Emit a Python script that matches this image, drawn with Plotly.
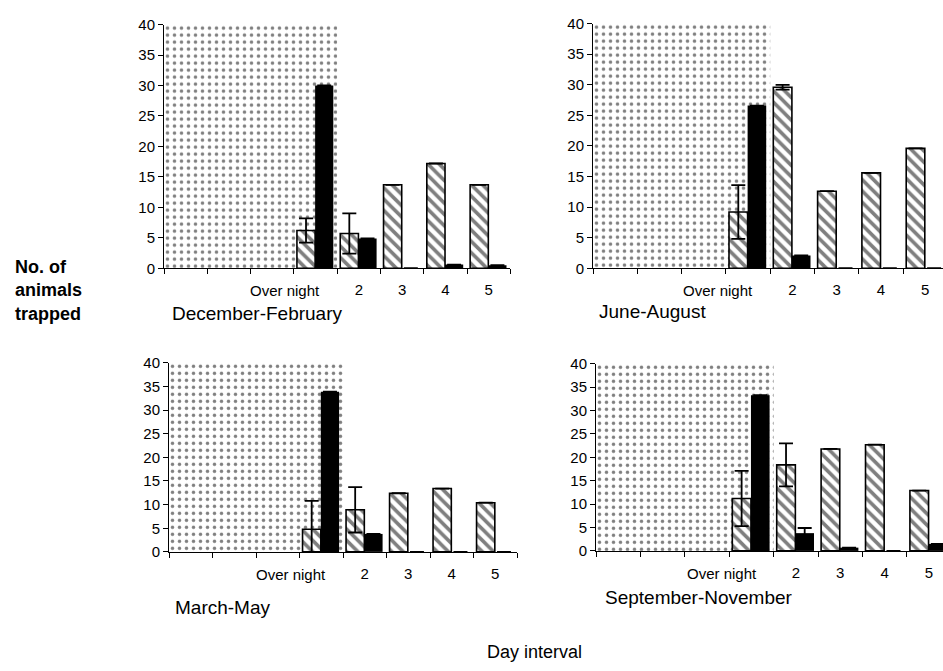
import plotly.graph_objects as go

# ---- data ----
categories = ["", "", "", "Over night", "2", "3", "4", "5"]
panel_titles = ["December-February", "June-August", "March-May", "September-November"]

# hatched series (None = no bar)
dec_feb_hatch = [None, None, None, 6.2, 5.7, 13.7, 17.2, 13.7]
dec_feb_hatch_err = [None, None, None, 2.0, 3.3, None, None, None]
dec_feb_black = [None, None, None, 30.0, 4.9, 0, 0.6, 0.5]
dec_feb_black_err = [None] * 8

jun_aug_hatch = [None, None, None, 9.2, 29.6, 12.6, 15.6, 19.6]
jun_aug_hatch_err = [None, None, None, 4.4, 0.4, None, None, None]
jun_aug_black = [None, None, None, 26.6, 2.1, 0, 0, 0]
jun_aug_black_err = [None] * 8

mar_may_hatch = [None, None, None, 4.8, 8.9, 12.4, 13.4, 10.4]
mar_may_hatch_err = [None, None, None, 6.0, 4.8, None, None, None]
mar_may_black = [None, None, None, 33.9, 3.8, 0, 0, 0]
mar_may_black_err = [None] * 8

sep_nov_hatch = [None, None, None, 11.2, 18.4, 21.8, 22.7, 12.9]
sep_nov_hatch_err = [None, None, None, 5.9, 4.6, None, None, None]
sep_nov_black = [None, None, None, 33.3, 3.8, 0.7, 0, 1.5]
sep_nov_black_err = [None, None, None, None, 1.1, None, None, None]

night_span = [0, 3]   # categories covered by the night shading
shade_top = 40

panels = [
    (dec_feb_hatch, dec_feb_hatch_err, dec_feb_black, dec_feb_black_err),
    (jun_aug_hatch, jun_aug_hatch_err, jun_aug_black, jun_aug_black_err),
    (mar_may_hatch, mar_may_hatch_err, mar_may_black, mar_may_black_err),
    (sep_nov_hatch, sep_nov_hatch_err, sep_nov_black, sep_nov_black_err),
]

W, H = 943, 671
# pixel boxes: (x0, ytop, ybottom)
boxes = [
    (164, 16, 266),
    (593, 15, 266),
    (169, 363, 557),
    (596, 364, 556),
]
cat_px = [43.3, 44.3, 43.5, 44.4]

FONT = "Liberation Sans, Arial, sans-serif"
xs = list(range(len(categories)))
long_idx = categories.index("Over night")
ticktext = ["" if k == long_idx else c for k, c in enumerate(categories)]

fig = go.Figure()
annots = []
for i, (hv, he, bv, be) in enumerate(panels):
    ax = "" if i == 0 else str(i + 1)
    xa, ya = "x" + ax, "y" + ax
    x0, yt, yb = boxes[i]
    span_px = 8 * cat_px[i]
    xend = min(x0 + span_px, W)   # right panels are clipped by the image edge
    xmax = -0.5 + (xend - x0) / cat_px[i]
    fig.add_trace(go.Bar(
        x=[(night_span[0] + night_span[1]) / 2], y=[shade_top],
        width=[night_span[1] - night_span[0] + 1],
        marker=dict(color="white",
                    pattern=dict(shape=".", fgcolor="black", bgcolor="white",
                                 size=7, solidity=0.2),
                    line=dict(width=0)),
        xaxis=xa, yaxis=ya, hoverinfo="skip"))
    fig.add_trace(go.Bar(
        x=xs, y=hv, offset=-0.43, width=0.42,
        error_y=dict(type="data", array=he, color="black", thickness=1.8, width=7),
        marker=dict(color="white",
                    pattern=dict(shape="\\", fgcolor="black", bgcolor="white",
                                 size=8, solidity=0.45),
                    line=dict(color="black", width=1.6)),
        xaxis=xa, yaxis=ya))
    fig.add_trace(go.Bar(
        x=xs, y=bv, offset=-0.01, width=0.42,
        error_y=dict(type="data", array=be, color="black", thickness=1.8, width=7),
        marker=dict(color="black", line=dict(width=0)),
        xaxis=xa, yaxis=ya))
    xkey = "xaxis" + ax
    ykey = "yaxis" + ax
    fig.layout[xkey] = dict(
        domain=[x0 / W, xend / W], anchor=ya, range=[-0.5, xmax],
        tickmode="array", tickvals=xs, ticktext=ticktext, tickangle=0,
        ticks="outside", ticklen=8, tickcolor="rgba(0,0,0,0)",
        minor=dict(tickmode="linear", tick0=-0.5, dtick=1, ticks="outside",
                   ticklen=5, tickcolor="black", tickwidth=1),
        showline=True, linecolor="black", linewidth=1, showgrid=False,
        zeroline=False, tickfont=dict(family=FONT, size=15, color="black"),
        fixedrange=True)
    fig.layout[ykey] = dict(
        domain=[1 - yb / H, 1 - yt / H], anchor=xa, range=[0, 40],
        tickmode="linear", tick0=0, dtick=5, ticks="outside", ticklen=5,
        tickcolor="black", showline=True, linecolor="black", linewidth=1,
        showgrid=False, zeroline=False,
        tickfont=dict(family=FONT, size=15, color="black"))
    # long category label, set right-aligned inside its slot like the original
    annots.append(dict(text=categories[long_idx], x=long_idx + 0.5 - 15 / cat_px[i],
                       xref=xa, y=1 - (yb + 23) / H, yref="paper",
                       xanchor="right", yanchor="middle", showarrow=False,
                       font=dict(family=FONT, size=15, color="black")))

title_pos = [(170, 312), (597, 310), (173, 614), (603, 604)]
for t, (px, py) in zip(panel_titles, title_pos):
    annots.append(dict(text=t, x=px / W, y=1 - py / H, xref="paper", yref="paper",
                       xanchor="left", yanchor="middle", showarrow=False,
                       font=dict(family=FONT, size=19, color="black")))
annots.append(dict(text="<b>No. of<br>animals<br>trapped</b>", x=13 / W, y=1 - 289 / H,
                   xref="paper", yref="paper", xanchor="left", yanchor="middle",
                   align="left", showarrow=False,
                   font=dict(family=FONT, size=18, color="black")))
annots.append(dict(text="Day interval", x=485 / W, y=1 - 660 / H, xref="paper",
                   yref="paper", xanchor="left", yanchor="middle", showarrow=False,
                   font=dict(family=FONT, size=18, color="black")))

fig.update_layout(
    width=W, height=H, margin=dict(l=0, r=0, t=0, b=0),
    barmode="overlay", showlegend=False,
    plot_bgcolor="white", paper_bgcolor="white",
    annotations=annots,
)
fig.write_html("out.html")
